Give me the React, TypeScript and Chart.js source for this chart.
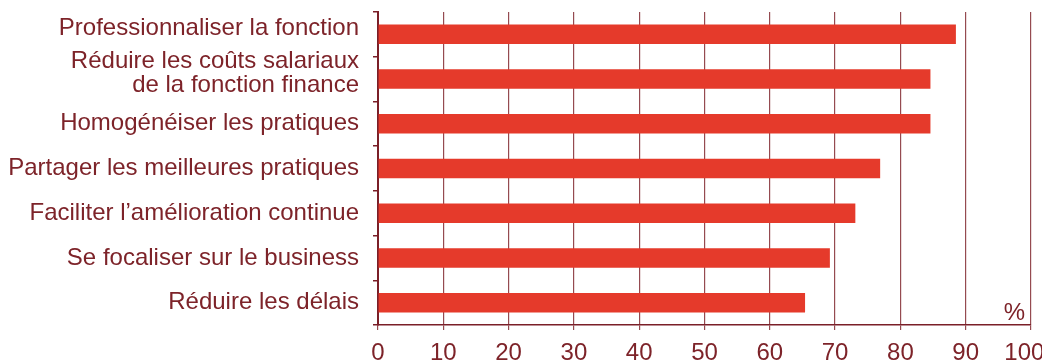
import React, { useEffect, useRef } from 'react';
import { Chart, registerables } from 'chart.js';

Chart.register(...registerables);

const categories: (string | string[])[] = [
  'Professionnaliser la fonction',
  ['Réduire les coûts salariaux', 'de la fonction finance'],
  'Homogénéiser les pratiques',
  'Partager les meilleures pratiques',
  'Faciliter l’amélioration continue',
  'Se focaliser sur le business',
  'Réduire les délais',
];

const values: number[] = [88.5, 84.6, 84.6, 76.9, 73.1, 69.2, 65.4];

const xMin = 0;
const xMax = 100;
const xStep = 10;
const unitLabel = '%';

const FONT = "'Liberation Sans', Arial, Helvetica, sans-serif";
const TEXT = '#7d2329';
const AXIS = '#7a1f28';
const GRID = '#954a50';
const BAR = '#e53a2b';

export default function App() {
  const ref = useRef<HTMLCanvasElement>(null);

  useEffect(() => {
    if (!ref.current) return;
    const unitPlugin = {
      id: 'unitLabel',
      afterDatasetsDraw(chart: any) {
        const { ctx, chartArea } = chart;
        ctx.save();
        ctx.font = `24px ${FONT}`;
        ctx.fillStyle = TEXT;
        ctx.textAlign = 'right';
        ctx.textBaseline = 'alphabetic';
        ctx.fillText(unitLabel, chartArea.right - 6, chartArea.bottom - 5.5);
        ctx.restore();
      },
    };

    const chart = new Chart(ref.current, {
      type: 'bar',
      data: {
        labels: categories as any,
        datasets: [
          {
            data: values,
            backgroundColor: BAR,
            borderWidth: 0,
            barPercentage: 0.436,
            categoryPercentage: 1,
          },
        ],
      },
      options: {
        indexAxis: 'y',
        animation: false,
        responsive: true,
        maintainAspectRatio: false,
        layout: { padding: { top: 4, right: 11, left: 0, bottom: 0 } },
        plugins: {
          legend: { display: false },
          tooltip: { enabled: false },
        },
        scales: {
          x: {
            min: xMin,
            max: xMax,
            ticks: {
              stepSize: xStep,
              color: TEXT,
              font: { family: FONT, size: 24 },
              padding: 9,
              maxRotation: 0,
              autoSkip: false,
              callback: (v: any) => (Number(v) === xMax ? `${v}\u00a0\u00a0` : `${v}`),
            },
            grid: { color: GRID, lineWidth: 1.2, tickLength: 5, drawTicks: true },
            border: { display: true, color: AXIS, width: 1.5 },
            afterFit: (s: any) => {
              s.paddingLeft = 0;
              s.paddingRight = 0;
              s.height = 35;
            },
          },
          y: {
            ticks: {
              color: TEXT,
              font: { family: FONT, size: 24, lineHeight: '12px' },
              padding: 14,
              autoSkip: false,
              callback: (_v: any, i: number) => {
                const lab = categories[i];
                if (Array.isArray(lab)) return [lab[0], '', lab[1], ''];
                if (i === 0) return [lab, ''];
                return lab;
              },
            },
            grid: {
              display: true,
              drawOnChartArea: false,
              drawTicks: true,
              tickLength: 5,
              color: AXIS,
              lineWidth: 1.5,
              offset: true,
            },
            border: { display: true, color: AXIS, width: 2 },
            afterFit: (s: any) => {
              s.width = 370;
              s.paddingTop = 0;
              s.paddingBottom = 0;
            },
          },
        },
      },
      plugins: [unitPlugin],
    });
    return () => chart.destroy();
  }, []);

  return (
    <div style={{ position: 'fixed', left: 8, top: 8, width: 1034, height: 352 }}>
      <canvas ref={ref} />
    </div>
  );
}
